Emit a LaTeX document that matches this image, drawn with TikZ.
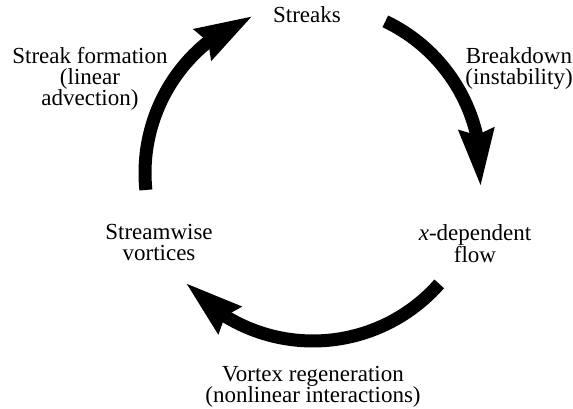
\documentclass[tikz,border=0pt]{standalone}
\usepackage{fontspec}
\setmainfont{Liberation Serif}
\usetikzlibrary{arrows.meta,bending}

\begin{document}
\begin{tikzpicture}[x=1pt, y=1pt, font=\fontsize{23}{21}\selectfont, line width=13pt,
	-{Stealth[length=57pt, width=37pt, inset=7pt, line width=0pt, flex]},
	label/.style={anchor=north, align=center, inner sep=0}]
	\useasboundingbox (0,0) rectangle (573,409);
	\coordinate (hub) at (313,236);
	% the four states
	\node[anchor=base] (streaks) at (307,386) {Streaks};
	\node[label] (xflow) at (475,191) {\textit{x}-dependent\\flow};
	\node[label] (vortices) at (159,191) {Streamwise\\vortices};
	% the three processes
	\node[label] (formation) at (90,368) {Streak formation\\(linear\\advection)};
	\node[label] (breakdown) at (519,368) {Breakdown\\(instability)};
	\node[label] (regen) at (313,49) {Vortex regeneration\\(nonlinear interactions)};
	% arcs of the cycle
	\coordinate (s1) at ([shift={(185.8:168)}]hub);
	\coordinate (s2) at ([shift={(64.5:168)}]hub);
	\coordinate (s3) at ([shift={(-41.3:168)}]hub);
	\draw (s1) arc[start angle=185.8, end angle=111.5, radius=168];
	\draw (s2) arc[start angle=64.5, end angle=-4.1, radius=168];
	\draw (s3) arc[start angle=-41.3, end angle=-138.7, radius=168];
\end{tikzpicture}
\end{document}
